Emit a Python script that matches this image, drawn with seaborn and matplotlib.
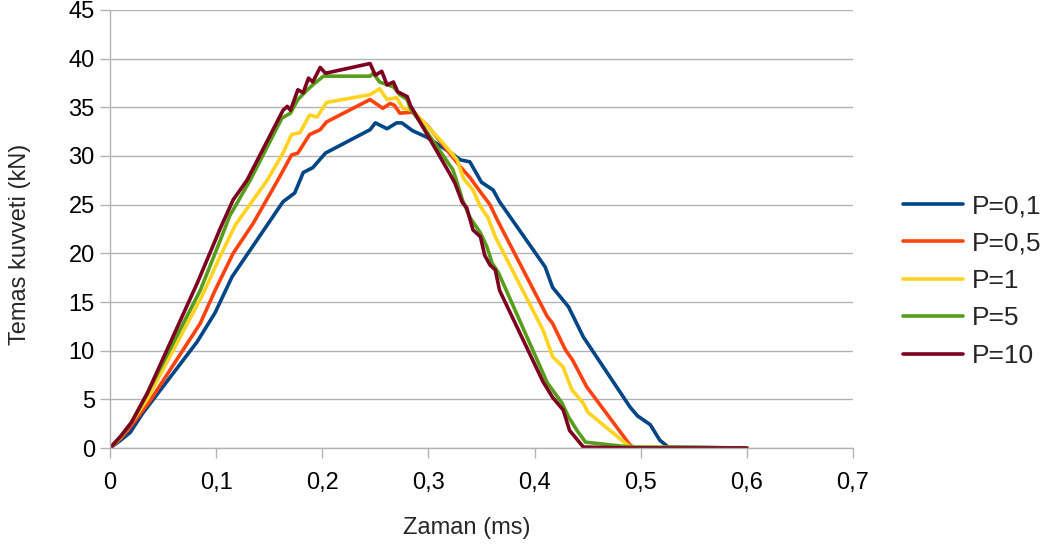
import matplotlib
matplotlib.use("Agg")
import matplotlib.pyplot as plt
import seaborn as sns
import pandas as pd

# ---- data ----
x_p01 = [0, 0.01, 0.019, 0.031, 0.082, 0.099, 0.115, 0.163, 0.174, 0.179, 0.182, 0.191, 0.203,
         0.245, 0.250, 0.261, 0.270, 0.275, 0.285, 0.299, 0.320, 0.330, 0.339, 0.350, 0.361,
         0.367, 0.410, 0.417, 0.432, 0.446, 0.490, 0.497, 0.509, 0.518, 0.526, 0.6]
y_p01 = [0, 0.8, 1.6, 3.6, 10.9, 13.9, 17.6, 25.3, 26.2, 27.5, 28.3, 28.8, 30.3,
         32.7, 33.4, 32.8, 33.4, 33.4, 32.6, 31.9, 30.4, 29.6, 29.4, 27.3, 26.5,
         25.3, 18.6, 16.5, 14.5, 11.4, 4.2, 3.3, 2.4, 0.8, 0.1, 0]

x_p05 = [0, 0.01, 0.02, 0.038, 0.085, 0.099, 0.116, 0.135, 0.158, 0.171, 0.177, 0.188, 0.198,
         0.204, 0.245, 0.257, 0.264, 0.268, 0.273, 0.285, 0.300, 0.330, 0.339, 0.349, 0.358,
         0.365, 0.412, 0.417, 0.429, 0.436, 0.449, 0.490, 0.495, 0.6]
y_p05 = [0, 1.0, 2.3, 4.9, 12.8, 16.2, 20.0, 23.1, 27.5, 30.1, 30.3, 32.2, 32.7,
         33.5, 35.8, 34.9, 35.4, 35.2, 34.4, 34.5, 33.0, 28.9, 27.8, 26.3, 25.0,
         23.4, 13.5, 12.8, 10.1, 9.0, 6.3, 0.3, 0, 0]

x_p1 = [0, 0.01, 0.022, 0.035, 0.088, 0.102, 0.118, 0.148, 0.163, 0.171, 0.179, 0.188, 0.195,
        0.204, 0.245, 0.254, 0.261, 0.270, 0.276, 0.285, 0.314, 0.327, 0.333, 0.342, 0.349,
        0.356, 0.363, 0.408, 0.417, 0.427, 0.435, 0.446, 0.450, 0.490, 0.6]
y_p1 = [0, 1.1, 2.9, 5.0, 15.9, 19.3, 22.9, 27.5, 30.3, 32.2, 32.4, 34.2, 34.0,
        35.5, 36.3, 36.9, 35.8, 36.0, 34.9, 34.7, 31.3, 29.6, 27.7, 26.5, 24.8,
        23.7, 21.7, 12.1, 9.4, 8.3, 6.0, 4.6, 3.7, 0.1, 0]

x_p5 = [0, 0.01, 0.02, 0.036, 0.085, 0.099, 0.113, 0.132, 0.162, 0.170, 0.177, 0.186, 0.191,
        0.201, 0.245, 0.248, 0.254, 0.267, 0.273, 0.280, 0.283, 0.304, 0.323, 0.327, 0.332,
        0.339, 0.349, 0.355, 0.360, 0.366, 0.412, 0.426, 0.432, 0.440, 0.448, 0.490, 0.6]
y_p5 = [0, 1.2, 2.6, 5.8, 16.2, 20.0, 23.9, 27.5, 33.9, 34.4, 35.8, 36.8, 37.3,
        38.2, 38.2, 38.5, 37.6, 37.1, 36.3, 35.8, 34.9, 31.6, 28.6, 27.3, 25.5,
        23.7, 22.1, 20.7, 19.0, 18.0, 6.7, 4.6, 3.2, 1.8, 0.6, 0.1, 0]

x_p10 = [0, 0.01, 0.02, 0.035, 0.082, 0.094, 0.104, 0.116, 0.129, 0.163, 0.167, 0.170, 0.177,
         0.182, 0.187, 0.191, 0.198, 0.203, 0.245, 0.250, 0.256, 0.261, 0.267, 0.271, 0.280,
         0.283, 0.320, 0.325, 0.332, 0.336, 0.342, 0.349, 0.353, 0.358, 0.363, 0.367, 0.408,
         0.417, 0.427, 0.433, 0.446, 0.490, 0.6]
y_p10 = [0, 1.2, 2.6, 5.6, 16.9, 20.0, 22.6, 25.5, 27.5, 34.7, 35.1, 34.7, 36.8,
         36.5, 38.0, 37.6, 39.1, 38.5, 39.5, 38.3, 38.7, 37.3, 37.6, 36.6, 36.1,
         35.2, 28.2, 27.2, 25.2, 24.7, 22.4, 21.7, 19.8, 18.8, 18.3, 16.2, 6.8,
         5.2, 3.9, 1.8, 0.1, 0, 0]

series_names = ["P=0,1", "P=0,5", "P=1", "P=5", "P=10"]
series_x = [x_p01, x_p05, x_p1, x_p5, x_p10]
series_y = [y_p01, y_p05, y_p1, y_p5, y_p10]
colors = ["#004586", "#ff420e", "#ffd320", "#579d1c", "#7e0021"]

x_ticks = [0, 0.1, 0.2, 0.3, 0.4, 0.5, 0.6, 0.7]
x_tick_labels = ["0", "0,1", "0,2", "0,3", "0,4", "0,5", "0,6", "0,7"]
y_ticks = list(range(0, 50, 5))

rows = []
for name, xs, ys in zip(series_names, series_x, series_y):
    for xv, yv in zip(xs, ys):
        rows.append({"Zaman": xv, "Kuvvet": yv, "Seri": name})
df = pd.DataFrame(rows)

sns.set_theme(style="white")
plt.rcParams["font.family"] = ["Liberation Sans", "DejaVu Sans"]

fig = plt.figure(figsize=(10.52, 5.51), dpi=100)
ax = fig.add_axes([0.1046, 0.1869, 0.7062, 0.7950])

sns.lineplot(data=df, x="Zaman", y="Kuvvet", hue="Seri", hue_order=series_names,
             palette=colors, linewidth=2.6, sort=False, estimator=None, ax=ax,
             legend=True)

ax.set_xlim(0, 0.7)
ax.set_ylim(0, 45)
ax.set_xticks(x_ticks)
ax.set_xticklabels(x_tick_labels)
ax.set_yticks(y_ticks)
ax.tick_params(axis="both", labelsize=17, colors="#b3b3b3", labelcolor="black",
               length=7, width=1, direction="out")
ax.tick_params(axis="x", bottom=True, pad=10)
ax.tick_params(axis="y", left=True, pad=4)
ax.grid(axis="y", color="#b3b3b3", linewidth=1)
ax.set_axisbelow(True)
for s in ["top", "right"]:
    ax.spines[s].set_visible(False)
for s in ["left", "bottom"]:
    ax.spines[s].set_color("#b3b3b3")
    ax.spines[s].set_linewidth(1)

ax.set_xlabel("Zaman (ms)", fontsize=17, labelpad=17)
ax.set_ylabel("Temas kuvveti (kN)", fontsize=17, labelpad=27)
ax.xaxis.label.set_x(0.4805)
ax.yaxis.label.set_y(0.466)

handles, labels = ax.get_legend_handles_labels()
ax.get_legend().remove()
leg = fig.legend(handles, labels, loc="center left", bbox_to_anchor=(0.836, 0.49),
                 frameon=False, fontsize=19, handlelength=2.27, labelspacing=0.51,
                 handletextpad=0.33)
for h in leg.get_lines():
    h.set_linewidth(2.6)

fig.savefig("out.png", dpi=100)
